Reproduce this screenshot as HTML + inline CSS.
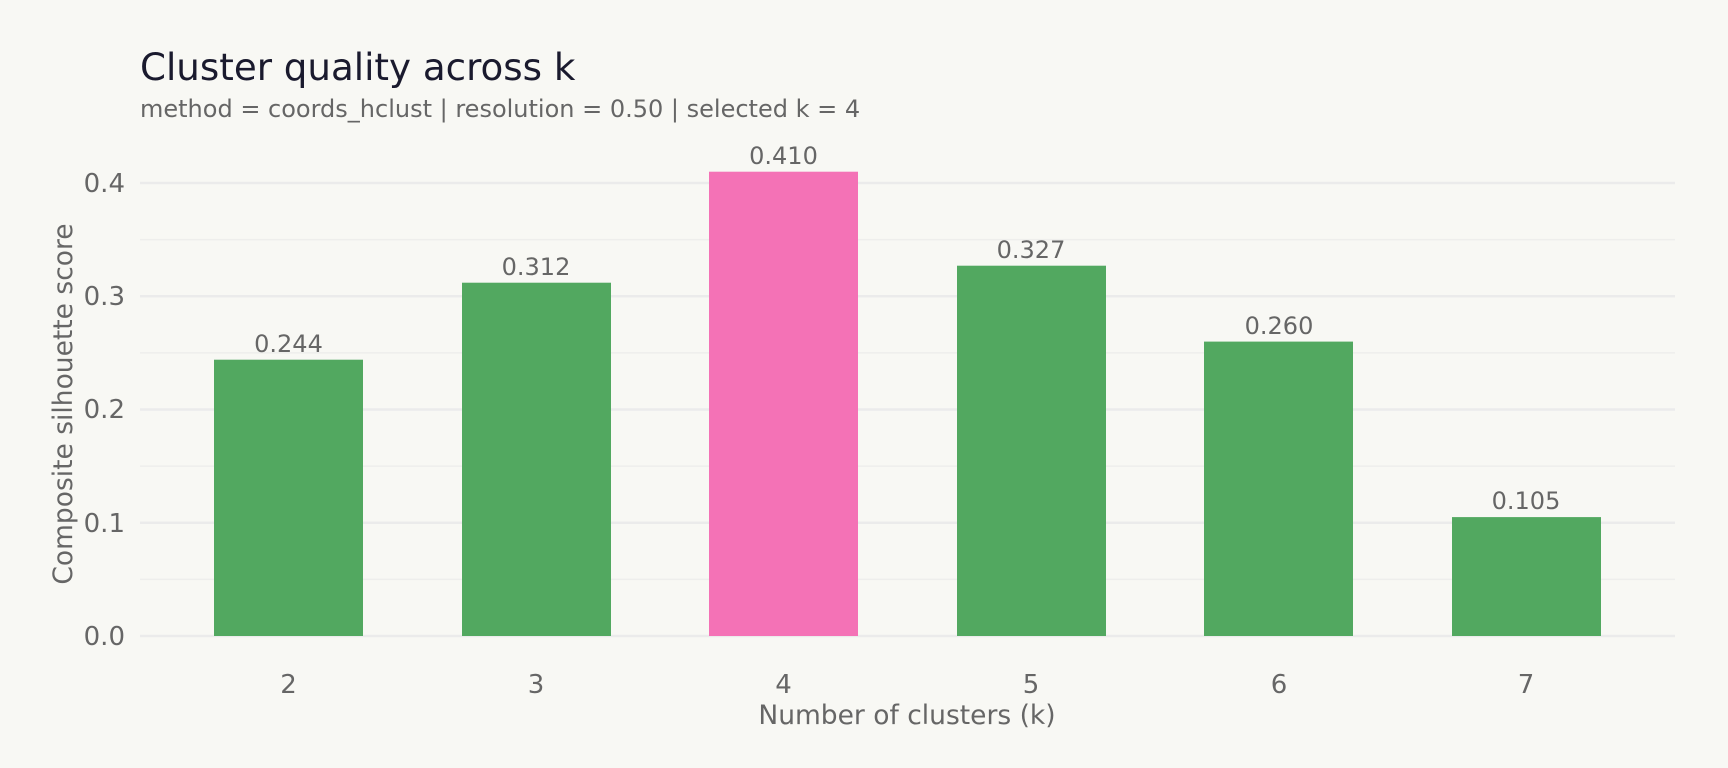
<!DOCTYPE html>
<html><head><meta charset="utf-8"><style>
html,body{margin:0;padding:0;background:#f8f8f4;}
svg{display:block;font-family:"DejaVu Sans","Liberation Sans",sans-serif;}
</style></head><body>
<svg width="1728" height="768" viewBox="0 0 1728 768" xmlns="http://www.w3.org/2000/svg">
<rect width="1728" height="768" fill="#f8f8f4"/>
<text x="140" y="80" font-size="37.2" fill="#1a1a2e">Cluster quality across k</text>
<text x="140" y="117" font-size="24" fill="#666">method = coords_hclust | resolution = 0.50 | selected k = 4</text>
<g stroke="#eeeeec" stroke-width="1.5">
<line x1="140" x2="1675" y1="579.4" y2="579.4"/>
<line x1="140" x2="1675" y1="466.1" y2="466.1"/>
<line x1="140" x2="1675" y1="352.9" y2="352.9"/>
<line x1="140" x2="1675" y1="239.6" y2="239.6"/>
</g>
<g stroke="#ebebeb" stroke-width="2.5">
<line x1="140" x2="1675" y1="636" y2="636"/>
<line x1="140" x2="1675" y1="522.8" y2="522.8"/>
<line x1="140" x2="1675" y1="409.5" y2="409.5"/>
<line x1="140" x2="1675" y1="296.3" y2="296.3"/>
<line x1="140" x2="1675" y1="183" y2="183"/>
</g>
<g font-size="26" fill="#666" text-anchor="end">
<text x="125" y="645">0.0</text>
<text x="125" y="532">0.1</text>
<text x="125" y="418">0.2</text>
<text x="125" y="305">0.3</text>
<text x="125" y="192">0.4</text>
</g>
<text transform="translate(72,404) rotate(-90)" font-size="26.5" fill="#666" text-anchor="middle">Composite silhouette score</text>
<g>
<rect x="214" y="359.7" width="149" height="276.3" fill="#52a860"/>
<rect x="462" y="282.7" width="149" height="353.3" fill="#52a860"/>
<rect x="709" y="171.7" width="149" height="464.3" fill="#f472b6"/>
<rect x="957" y="265.7" width="149" height="370.3" fill="#52a860"/>
<rect x="1204" y="341.6" width="149" height="294.4" fill="#52a860"/>
<rect x="1452" y="517.1" width="149" height="118.9" fill="#52a860"/>
</g>
<g font-size="24" fill="#666" text-anchor="middle">
<text x="288.5" y="352">0.244</text>
<text x="536" y="275">0.312</text>
<text x="783.5" y="164">0.410</text>
<text x="1031" y="258">0.327</text>
<text x="1279" y="334">0.260</text>
<text x="1526" y="509">0.105</text>
</g>
<g font-size="26" fill="#666" text-anchor="middle">
<text x="288.5" y="693">2</text>
<text x="536" y="693">3</text>
<text x="783.5" y="693">4</text>
<text x="1031" y="693">5</text>
<text x="1279" y="693">6</text>
<text x="1526" y="693">7</text>
</g>
<text x="907" y="724" font-size="26.5" fill="#666" text-anchor="middle">Number of clusters (k)</text>
</svg>
</body></html>
